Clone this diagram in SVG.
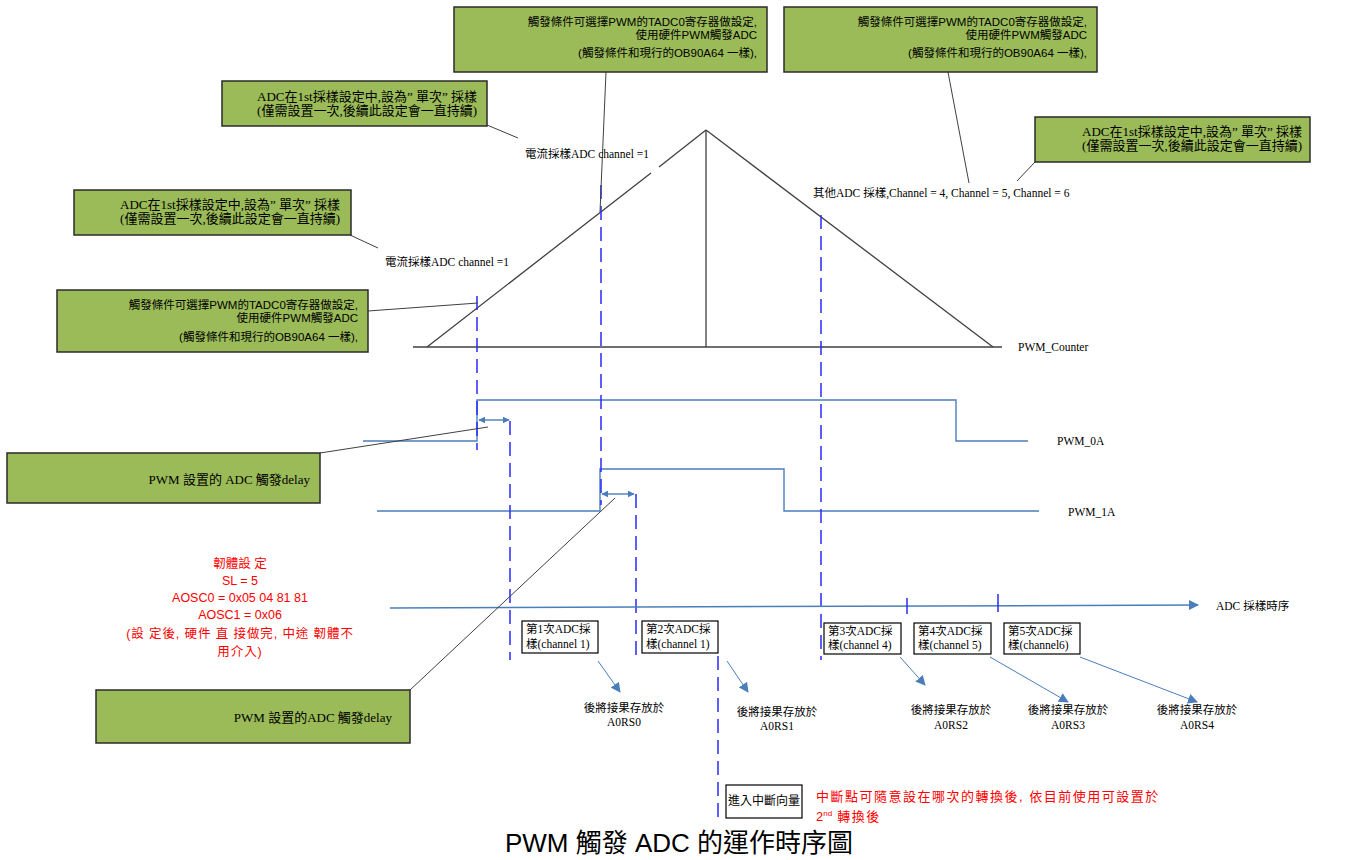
<svg xmlns="http://www.w3.org/2000/svg" width="1351" height="860" viewBox="0 0 1351 860">
  <style>
    .note { fill: #9BBB59; stroke: #2b2b2b; stroke-width: 1.5; }
    .box { fill: #ffffff; stroke: #000000; stroke-width: 1.2; }
    .sans { font-family: "Liberation Sans", "Noto Sans CJK TC", sans-serif; fill: #000; }
    .serif { font-family: "Liberation Serif", "Noto Sans CJK TC", serif; fill: #000; }
    .red { font-family: "Liberation Sans", "Noto Sans CJK TC", sans-serif; fill: #ff0000; }
    .counter { fill: none; stroke: #404040; stroke-width: 1.3; }
    .pwm { fill: none; stroke: #4a7ebb; stroke-width: 1.4; }
    .guide { fill: none; stroke: #2a2aff; stroke-width: 1.5; stroke-dasharray: 14 7; }
    .call { fill: none; stroke: #404040; stroke-width: 1; }
    .flow { fill: none; stroke: #4a7ebb; stroke-width: 1; }
  </style>
  <defs>
    <marker id="head" viewBox="0 0 10 10" refX="9" refY="5" markerWidth="7" markerHeight="7" orient="auto-start-reverse" markerUnits="userSpaceOnUse">
      <path d="M0,0 L10,5 L0,10 z" fill="#4a7ebb"/>
    </marker>
    <marker id="headBig" viewBox="0 0 10 10" refX="9" refY="5" markerWidth="10" markerHeight="10" orient="auto" markerUnits="userSpaceOnUse">
      <path d="M0,0 L10,5 L0,10 z" fill="#4a7ebb"/>
    </marker>
  </defs>

  <rect width="1351" height="860" fill="#ffffff"/>

  <!-- connectors: counter waveform, PWM outputs, guides, callouts -->
  <g id="connectors">
    <!-- PWM counter triangle -->
    <line class="counter" x1="413" y1="347" x2="1002" y2="347"/>
    <line class="counter" x1="427" y1="347" x2="651" y2="173"/>
    <line class="counter" x1="659" y1="167" x2="706" y2="130"/>
    <line class="counter" x1="706" y1="130" x2="993" y2="347"/>
    <line class="counter" x1="706" y1="130" x2="706" y2="347"/>

    <!-- PWM outputs -->
    <polyline class="pwm" points="363,441 477,441 477,400 956,400 956,441 1028,441"/>
    <polyline class="pwm" points="377,511 600,511 600,469 784,469 784,511 1039,511"/>

    <!-- trigger delays -->
    <line class="pwm" x1="479" y1="420" x2="509" y2="420" marker-start="url(#head)" marker-end="url(#head)"/>
    <line class="pwm" x1="602" y1="494" x2="634" y2="494" marker-start="url(#head)" marker-end="url(#head)"/>

    <!-- timing guides -->
    <line class="guide" x1="477" y1="296" x2="477" y2="450"/>
    <line class="guide" x1="510" y1="421" x2="510" y2="660"/>
    <line class="guide" x1="601" y1="185" x2="601" y2="505"/>
    <line class="guide" x1="636" y1="494" x2="636" y2="660"/>
    <line class="guide" x1="821" y1="215" x2="821" y2="660"/>
    <line class="guide" x1="718" y1="656" x2="718" y2="818" stroke="#6c6cff"/>

    <!-- ADC sampling time axis -->
    <line x1="390" y1="608" x2="1198" y2="605" stroke="#4a7ebb" stroke-width="1.5" marker-end="url(#headBig)"/>
    <line x1="907" y1="598" x2="907" y2="614" stroke="#2a2aff" stroke-width="1.5"/>
    <line x1="998" y1="594" x2="998" y2="612" stroke="#2a2aff" stroke-width="1.5"/>

    <!-- callout leaders -->
    <line class="call" x1="606" y1="72" x2="600" y2="212"/>
    <line class="call" x1="948" y1="72" x2="969" y2="183"/>
    <line class="call" x1="1035" y1="162" x2="1017" y2="181"/>
    <line class="call" x1="487" y1="125" x2="518" y2="138"/>
    <line class="call" x1="350" y1="235" x2="378" y2="248"/>
    <line class="call" x1="368" y1="311" x2="478" y2="303"/>
    <line class="call" x1="320" y1="453" x2="488" y2="427"/>
    <line class="call" x1="410" y1="690" x2="615" y2="498"/>

    <!-- result storage arrows -->
    <line class="flow" x1="598" y1="661" x2="620" y2="692" marker-end="url(#headBig)"/>
    <line class="flow" x1="727" y1="661" x2="748" y2="692" marker-end="url(#headBig)"/>
    <line class="flow" x1="900" y1="657" x2="925" y2="685" marker-end="url(#headBig)"/>
    <line class="flow" x1="990" y1="657" x2="1068" y2="702" marker-end="url(#headBig)"/>
    <line class="flow" x1="1080" y1="657" x2="1197" y2="702" marker-end="url(#headBig)"/>
  </g>

  <!-- trigger selection notes -->
  <g id="note-trigger-top">
    <rect class="note" x="454" y="7" width="313" height="65"/>
    <text class="sans" font-size="11.5" text-anchor="end" x="757" y="26">觸發條件可選擇PWM的TADC0寄存器做設定,</text>
    <text class="sans" font-size="11.5" text-anchor="end" x="757" y="39">使用硬件PWM觸發ADC</text>
    <text class="sans" font-size="11.5" text-anchor="end" x="757" y="57">(觸發條件和現行的OB90A64 一樣),</text>
  </g>
  <g id="note-trigger-right">
    <rect class="note" x="784" y="7" width="313" height="65"/>
    <text class="sans" font-size="11.5" text-anchor="end" x="1087" y="26">觸發條件可選擇PWM的TADC0寄存器做設定,</text>
    <text class="sans" font-size="11.5" text-anchor="end" x="1087" y="39">使用硬件PWM觸發ADC</text>
    <text class="sans" font-size="11.5" text-anchor="end" x="1087" y="57">(觸發條件和現行的OB90A64 一樣),</text>
  </g>
  <g id="note-trigger-left">
    <rect class="note" x="57" y="290" width="311" height="62"/>
    <text class="sans" font-size="11.5" text-anchor="end" x="358" y="309">觸發條件可選擇PWM的TADC0寄存器做設定,</text>
    <text class="sans" font-size="11.5" text-anchor="end" x="358" y="322">使用硬件PWM觸發ADC</text>
    <text class="sans" font-size="11.5" text-anchor="end" x="358" y="341">(觸發條件和現行的OB90A64 一樣),</text>
  </g>

  <!-- single-shot sampling notes -->
  <g id="note-single-mid">
    <rect class="note" x="222" y="81" width="265" height="45"/>
    <text class="serif" font-size="13" text-anchor="end" x="477" y="101">ADC在1st採樣設定中,設為” 單次” 採樣</text>
    <text class="serif" font-size="13" text-anchor="end" x="477" y="115">(僅需設置一次,後續此設定會一直持續)</text>
  </g>
  <g id="note-single-left">
    <rect class="note" x="74" y="190" width="277" height="45"/>
    <text class="serif" font-size="13" text-anchor="end" x="340" y="209">ADC在1st採樣設定中,設為” 單次” 採樣</text>
    <text class="serif" font-size="13" text-anchor="end" x="340" y="223">(僅需設置一次,後續此設定會一直持續)</text>
  </g>
  <g id="note-single-right">
    <rect class="note" x="1035" y="117" width="275" height="45"/>
    <text class="serif" font-size="13" text-anchor="end" x="1302" y="136">ADC在1st採樣設定中,設為” 單次” 採樣</text>
    <text class="serif" font-size="13" text-anchor="end" x="1302" y="150">(僅需設置一次,後續此設定會一直持續)</text>
  </g>

  <!-- trigger delay notes -->
  <g id="note-delay-0">
    <rect class="note" x="7" y="453" width="313" height="50"/>
    <text class="serif" font-size="13" text-anchor="end" x="310" y="484">PWM 設置的 ADC 觸發delay</text>
  </g>
  <g id="note-delay-1">
    <rect class="note" x="96" y="690" width="314" height="53"/>
    <text class="serif" font-size="13" text-anchor="end" x="392" y="722">PWM 設置的ADC 觸發delay</text>
  </g>

  <!-- waveform labels -->
  <g id="labels">
    <text class="serif" font-size="11.5" x="525" y="158">電流採樣ADC channel =1</text>
    <text class="serif" font-size="11.5" x="385" y="266">電流採樣ADC channel =1</text>
    <text class="serif" font-size="11.5" x="813" y="197">其他ADC 採樣,Channel = 4, Channel = 5, Channel = 6</text>
    <text class="serif" font-size="11.5" x="1018" y="351">PWM_Counter</text>
    <text class="serif" font-size="11.5" x="1057" y="445">PWM_0A</text>
    <text class="serif" font-size="11.5" x="1068" y="516">PWM_1A</text>
    <text class="serif" font-size="11.5" x="1216" y="610">ADC 採樣時序</text>
  </g>

  <!-- firmware settings -->
  <g id="firmware-settings" text-anchor="middle">
    <text class="red" font-size="12.5" x="240" y="568">韌體設 定</text>
    <text class="red" font-size="12.5" x="240" y="585">SL = 5</text>
    <text class="red" font-size="12.5" x="240" y="602">AOSC0 = 0x05 04 81 81</text>
    <text class="red" font-size="12.5" x="240" y="619">AOSC1 = 0x06</text>
    <text class="red" font-size="12.5" letter-spacing="0.9" x="240" y="638">(設 定後, 硬件 直 接做完, 中途 韌體不</text>
    <text class="red" font-size="12.5" letter-spacing="0.9" x="240" y="656">用介入)</text>
  </g>

  <!-- ADC conversions -->
  <g id="sample-1">
    <rect class="box" x="522" y="621" width="76" height="32"/>
    <text class="serif" font-size="11.5" x="526" y="633">第1次ADC採</text>
    <text class="serif" font-size="11.5" x="526" y="648">樣(channel 1)</text>
  </g>
  <g id="sample-2">
    <rect class="box" x="642" y="621" width="76" height="32"/>
    <text class="serif" font-size="11.5" x="646" y="633">第2次ADC採</text>
    <text class="serif" font-size="11.5" x="646" y="648">樣(channel 1)</text>
  </g>
  <g id="sample-3">
    <rect class="box" x="824" y="623" width="77" height="31"/>
    <text class="serif" font-size="11.5" x="828" y="635">第3次ADC採</text>
    <text class="serif" font-size="11.5" x="828" y="649">樣(channel 4)</text>
  </g>
  <g id="sample-4">
    <rect class="box" x="914" y="623" width="77" height="31"/>
    <text class="serif" font-size="11.5" x="918" y="635">第4次ADC採</text>
    <text class="serif" font-size="11.5" x="918" y="649">樣(channel 5)</text>
  </g>
  <g id="sample-5">
    <rect class="box" x="1004" y="623" width="76" height="31"/>
    <text class="serif" font-size="11.5" x="1008" y="635">第5次ADC採</text>
    <text class="serif" font-size="11.5" x="1008" y="649">樣(channel6)</text>
  </g>

  <!-- result registers -->
  <g id="results" text-anchor="middle">
    <text class="serif" font-size="11.5" x="624" y="712">後將接果存放於</text>
    <text class="serif" font-size="11.5" x="624" y="726">A0RS0</text>
    <text class="serif" font-size="11.5" x="777" y="716">後將接果存放於</text>
    <text class="serif" font-size="11.5" x="777" y="730">A0RS1</text>
    <text class="serif" font-size="11.5" x="951" y="714">後將接果存放於</text>
    <text class="serif" font-size="11.5" x="951" y="729">A0RS2</text>
    <text class="serif" font-size="11.5" x="1068" y="714">後將接果存放於</text>
    <text class="serif" font-size="11.5" x="1068" y="729">A0RS3</text>
    <text class="serif" font-size="11.5" x="1197" y="714">後將接果存放於</text>
    <text class="serif" font-size="11.5" x="1197" y="729">A0RS4</text>
  </g>

  <!-- interrupt entry -->
  <g id="interrupt">
    <rect class="box" x="726" y="785" width="76" height="33"/>
    <text class="sans" font-size="12" x="764" y="805" text-anchor="middle">進入中斷向量</text>
    <text class="red" font-size="13" letter-spacing="1.5" x="816" y="801">中斷點可隨意設在哪次的轉換後, 依目前使用可設置於</text>
    <text class="red" font-size="13" x="816" y="821">2<tspan font-size="8" dy="-5">nd</tspan><tspan dy="5" letter-spacing="1.5"> 轉換後</tspan></text>
  </g>

  <!-- title -->
  <text id="title" class="sans" font-size="26" x="679" y="852" text-anchor="middle">PWM 觸發 ADC 的運作時序圖</text>
</svg>
